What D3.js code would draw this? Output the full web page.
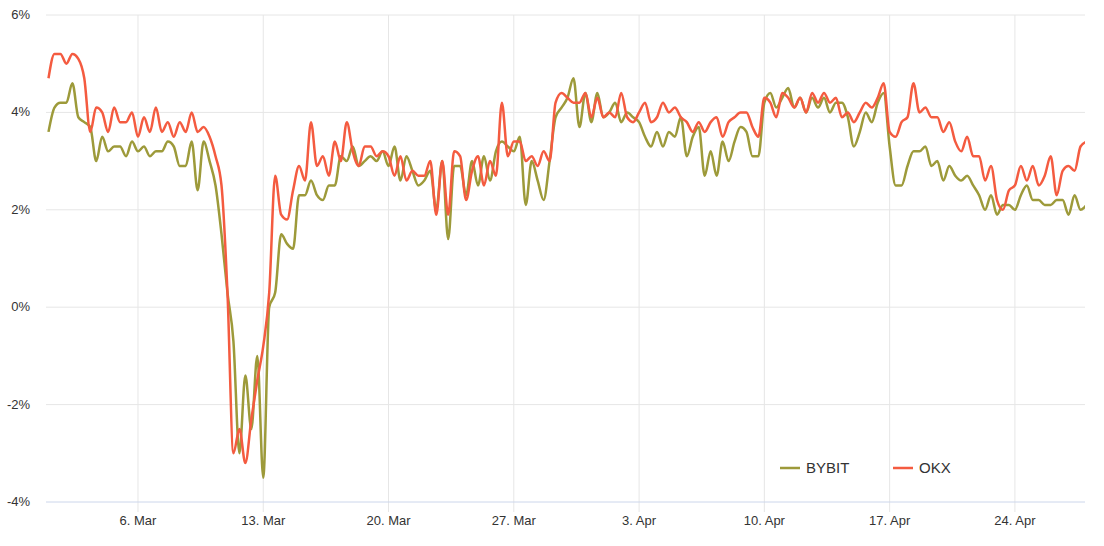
<!DOCTYPE html>
<html><head><meta charset="utf-8">
<script src="https://cdn.jsdelivr.net/npm/d3@7"></script>
<style>body{margin:0;background:#fff;font-family:"Liberation Sans",Arial,sans-serif}</style>
</head><body><svg id="c" width="1104" height="546"></svg>
<script>
const startDate = "2023-03-01T00:00:00Z";
const stepHours = 8;
const okx = [4.7,5.2,5.2, 5.0,5.2,5.1, 4.7,3.6,4.1, 4.0,3.6,4.1, 3.8,3.8,4.0, 3.5,3.9,3.6, 4.1,3.6,3.8, 3.5,3.8,3.6, 4.0,3.6,3.7, 3.5,3.1,2.5,
 0.3,-3.0,-2.5, -3.2,-2.3,-1.5, -0.8,0.3,2.7, 1.9,1.8,2.4, 2.9,2.6,3.8, 2.9,3.1,2.7, 3.4,3.0,3.8, 3.2,2.9,3.3, 3.3,3.1,3.2, 3.1,2.7,3.1,
 2.6,2.8,2.7, 2.7,3.0,1.9, 3.0,1.9,3.2, 3.1,2.2,2.8, 3.1,2.5,3.0, 2.7,4.2,3.1, 3.4,3.4,3.0, 3.1,2.9,3.2, 3.0,4.2,4.4, 4.3,4.2,4.2,
 4.4,3.9,4.3, 3.9,4.0,3.9, 4.4,3.9,3.8, 4.0,4.2,3.8, 3.9,4.2,4.0, 4.1,3.9,3.8, 3.6,3.8,3.6, 3.8,3.9,3.5, 3.8,3.9,4.0, 4.0,3.7,3.5,
 4.3,4.2,3.9, 4.4,4.3,4.1, 4.3,4.0,4.4, 4.2,4.4,4.2, 4.3,3.9,4.0, 3.8,4.0,4.2, 4.1,4.3,4.6, 3.6,3.5,3.8, 3.9,4.6,4.0, 4.1,3.9,3.9,
 3.6,3.8,3.4, 3.2,3.5,3.1, 3.1,2.6,2.9, 2.2,2.0,2.4, 2.5,2.9,2.6, 2.9,2.5,2.7, 3.1,2.3,2.8, 2.9,2.8,3.3, 3.4];
const bybit = [3.6,4.1,4.2, 4.2,4.6,3.9, 3.8,3.7,3.0, 3.5,3.2,3.3, 3.3,3.1,3.4, 3.2,3.3,3.1, 3.2,3.2,3.4, 3.3,2.9,2.9, 3.4,2.4,3.4, 3.0,2.5,1.5,
 0.3,-0.7,-3.0, -1.4,-2.5,-1.0, -3.5,0.0,0.3, 1.5,1.3,1.2, 2.3,2.3,2.6, 2.3,2.2,2.5, 2.5,3.1,3.0, 3.3,2.9,3.0, 3.1,3.0,3.2, 2.9,3.3,2.6,
 3.1,2.8,2.5, 2.6,2.8,2.0, 3.0,1.4,2.9, 2.9,2.3,3.0, 2.5,3.1,2.6, 3.2,3.4,3.3, 3.2,3.5,2.1, 3.0,2.6,2.2, 3.0,3.9,4.1, 4.3,4.7,3.7,
 4.4,3.8,4.4, 3.9,4.0,4.2, 3.8,4.0,3.9, 3.8,3.5,3.3, 3.6,3.3,3.6, 3.5,3.9,3.1, 3.5,3.7,2.7, 3.2,2.7,3.4, 3.0,3.4,3.7, 3.6,3.1,3.1,
 4.2,4.4,4.1, 4.3,4.5,4.1, 4.3,4.0,4.3, 4.1,4.3,4.0, 4.2,4.2,3.9, 3.3,3.6,4.0, 3.8,4.2,4.4, 3.3,2.5,2.5, 2.9,3.2,3.2, 3.3,2.9,3.0,
 2.6,2.9,2.7, 2.6,2.7,2.5, 2.3,2.0,2.3, 1.9,2.1,2.1, 2.0,2.3,2.5, 2.2,2.2,2.1, 2.1,2.2,2.2, 1.9,2.3,2.0, 2.1];
const yTicks = [-4,-2,0,2,4,6];
const xTickDates = ["2023-03-06","2023-03-13","2023-03-20","2023-03-27","2023-04-03","2023-04-10","2023-04-17","2023-04-24"];
const seriesNames = ["BYBIT","OKX"];
const colors = ["#9d9a3a","#f45b40"];

const svg = d3.select("#c");
const L=46,R=1085,T=15,B=502;
const t0 = new Date(startDate);
const dt = i => new Date(t0.getTime()+i*stepHours*3600e3);
const x = d3.scaleUtc().domain([new Date("2023-03-01T00:00:00Z"), new Date("2023-04-27T22:00:00Z")]).range([48.5,R]);
const y = d3.scaleLinear().domain([-4,6]).range([B,T]);

svg.append("g").selectAll("line").data(yTicks.slice(1)).join("line")
 .attr("x1",L).attr("x2",R).attr("y1",d=>y(d)).attr("y2",d=>y(d)).attr("stroke","#e6e6e6");
svg.append("g").selectAll("line").data(xTickDates).join("line")
 .attr("x1",d=>x(new Date(d))).attr("x2",d=>x(new Date(d))).attr("y1",T).attr("y2",B+10).attr("stroke","#e6e6e6");
svg.append("line").attr("x1",L).attr("x2",R).attr("y1",B).attr("y2",B).attr("stroke","#ccd6eb");
svg.append("g").selectAll("text").data(yTicks).join("text")
 .attr("x",30).attr("y",d=>y(d)+4).attr("text-anchor","end").attr("font-size",13).attr("fill","#333").text(d=>d+"%");
svg.append("g").selectAll("text").data(xTickDates).join("text")
 .attr("x",d=>x(new Date(d))).attr("y",B+23).attr("text-anchor","middle").attr("font-size",13).attr("fill","#333")
 .text(d=>d3.utcFormat("%-d. %b")(new Date(d)));

svg.append("clipPath").attr("id","cp").append("rect").attr("x",L).attr("y",0).attr("width",R-L).attr("height",546);
const line = d3.line().x((d,i)=>x(dt(i))).y(d=>y(d)).curve(d3.curveMonotoneX);
[bybit,okx].forEach((s,k)=>svg.append("path").attr("clip-path","url(#cp)").attr("d",line(s)).attr("fill","none").attr("stroke",colors[k]).attr("stroke-width",2.5));

const lg = svg.append("g");
seriesNames.forEach((n,k)=>{
  const lx = 780 + k*113;
  lg.append("line").attr("x1",lx).attr("x2",lx+20).attr("y1",468).attr("y2",468).attr("stroke",colors[k]).attr("stroke-width",2.5);
  lg.append("text").attr("x",lx+26).attr("y",473).attr("font-size",15).attr("fill","#333").text(n);
});
</script></body></html>
